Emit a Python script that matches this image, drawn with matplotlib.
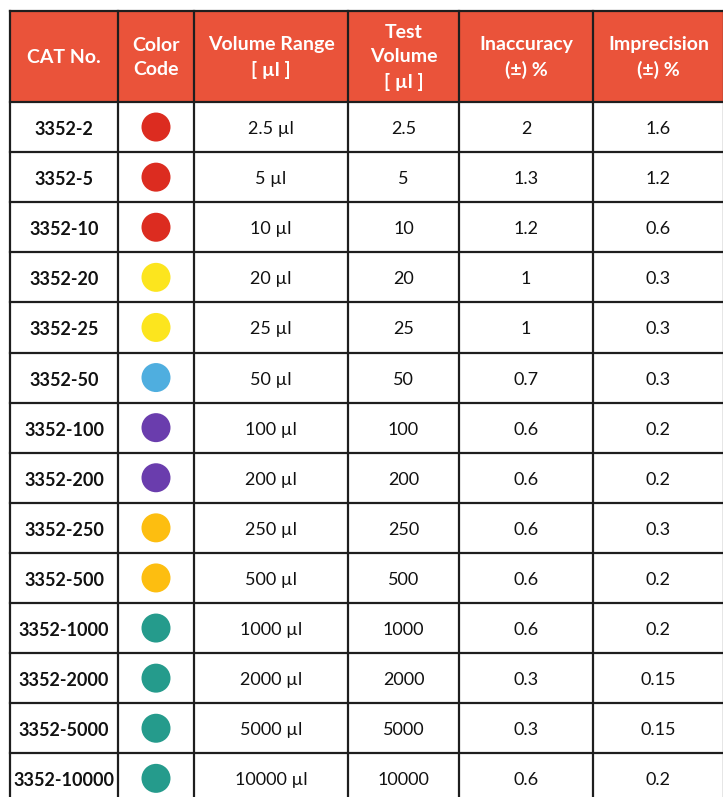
import matplotlib
matplotlib.use("Agg")
import matplotlib.pyplot as plt
from matplotlib.patches import Rectangle, Circle

headers = ["CAT No.", "Color\nCode", "Volume Range\n[ µl ]", "Test\nVolume\n[ µl ]",
           "Inaccuracy\n(±) %", "Imprecision\n(±) %"]
cat_no = ["3352-2", "3352-5", "3352-10", "3352-20", "3352-25", "3352-50", "3352-100",
          "3352-200", "3352-250", "3352-500", "3352-1000", "3352-2000", "3352-5000", "3352-10000"]
dot_colors = ["#DC2C20", "#DC2C20", "#DC2C20", "#FCE51E", "#FCE51E", "#4FAEDF", "#6A3DAD",
              "#6A3DAD", "#FDBE10", "#FDBE10", "#259B8C", "#259B8C", "#259B8C", "#259B8C"]
volume_range = ["2.5 µl", "5 µl", "10 µl", "20 µl", "25 µl", "50 µl", "100 µl", "200 µl",
                "250 µl", "500 µl", "1000 µl", "2000 µl", "5000 µl", "10000 µl"]
test_volume = ["2.5", "5", "10", "20", "25", "50", "100", "200", "250", "500",
               "1000", "2000", "5000", "10000"]
inaccuracy = ["2", "1.3", "1.2", "1", "1", "0.7", "0.6", "0.6", "0.6", "0.6",
              "0.6", "0.3", "0.3", "0.6"]
imprecision = ["1.6", "1.2", "0.6", "0.3", "0.3", "0.3", "0.2", "0.2", "0.3", "0.2",
               "0.2", "0.15", "0.15", "0.2"]

W, H = 723, 797
fig = plt.figure(figsize=(W / 100, H / 100), dpi=100)
ax = fig.add_axes([0, 0, 1, 1])
ax.set_xlim(0, W)
ax.set_ylim(H, 0)
ax.axis("off")

FONT = "Lato"
col_x = [10, 118, 194, 348, 459, 593, 724]
top = 11
head_bot = 102
row_h = 50.1
n = len(cat_no)
bottom = head_bot + n * row_h

header_color = "#EA533A"
line_color = "#1E1E1E"

ax.add_patch(Rectangle((col_x[0], top), col_x[-1] - col_x[0], head_bot - top,
                       facecolor=header_color, edgecolor="none", zorder=1))

for i, h in enumerate(headers):
    cx = (col_x[i] + col_x[i + 1]) / 2
    ax.text(cx, (top + head_bot) / 2 + 1, h, ha="center", va="center", color="white",
            fontsize=14, fontweight="bold", family=FONT, linespacing=1.55, zorder=3)

columns = [volume_range, test_volume, inaccuracy, imprecision]
for r in range(n):
    cy = head_bot + (r + 0.5) * row_h
    ax.text((col_x[0] + col_x[1]) / 2, cy + 2.5, cat_no[r], ha="center", va="center",
            fontsize=13, fontweight="bold", family=FONT, color="#111111", zorder=3)
    ax.add_patch(Circle(((col_x[1] + col_x[2]) / 2, cy), 14.5, facecolor=dot_colors[r],
                        edgecolor="none", zorder=3))
    for j, col in enumerate(columns):
        k = j + 2
        ax.text((col_x[k] + col_x[k + 1]) / 2, cy + 2, col[r], ha="center", va="center",
                fontsize=13, family=FONT, color="#111111", zorder=3)

# grid lines
for x in col_x:
    ax.plot([x, x], [top, bottom], color=line_color, lw=1.6, zorder=4, solid_capstyle="projecting")
ax.plot([col_x[0], col_x[-1]], [top, top], color=line_color, lw=1.6, zorder=4)
for r in range(n + 1):
    y = head_bot + r * row_h
    ax.plot([col_x[0], col_x[-1]], [y, y], color=line_color, lw=1.6, zorder=4)

fig.savefig("out.png", dpi=100, facecolor="white")
